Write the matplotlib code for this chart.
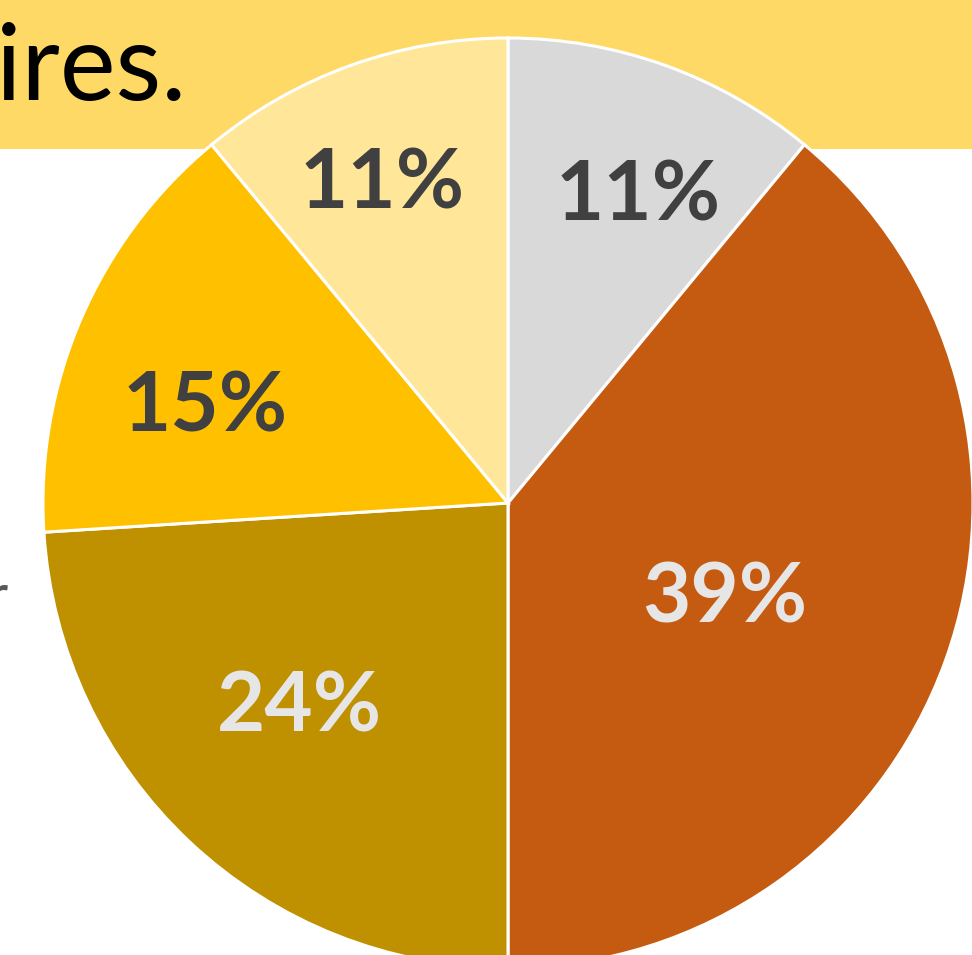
import matplotlib
matplotlib.use("Agg")
import matplotlib.pyplot as plt
from matplotlib.patches import Rectangle
import numpy as np

# Data
labels = ["11%", "39%", "24%", "15%", "11%"]
values = [11, 39, 24, 15, 11]
colors = ["#D9D9D9", "#C55A11", "#BF9000", "#FFC000", "#FFE699"]
text_colors = ["#404040", "#E7E6E6", "#E7E6E6", "#404040", "#404040"]
label_radii = [0.74, 0.50, 0.61, 0.69, 0.76]
label_angle_shift = [-2.5, -1.5, -4.0, 4.0, 1.0]
banner_text = "questionnaires."
side_text = "r"

W, H = 972, 955
fig = plt.figure(figsize=(W / 100, H / 100), dpi=100)
ax = fig.add_axes([0, 0, 1, 1])
ax.set_xlim(0, W)
ax.set_ylim(0, H)
ax.axis("off")

# banner
ax.add_patch(Rectangle((0, H - 149), W, 149, facecolor="#FFD966", edgecolor="none", zorder=0))
ax.text(187, H - 100, banner_text, ha="right", va="baseline", fontsize=76,
        family="Lato", color="black", zorder=1)
ax.text(7, H - 614, side_text, ha="right", va="baseline", fontsize=40,
        family="Lato", color="#595959", zorder=1)

cx, cy, R = 508, H - 503, 465
wedges, _ = ax.pie(values, colors=colors, startangle=90, counterclock=False,
                   center=(cx, cy), radius=R, frame=True,
                   wedgeprops=dict(edgecolor="white", linewidth=2.2))
for w in wedges:
    w.set_zorder(2)

for w, lab, tc, rf, da in zip(wedges, labels, text_colors, label_radii, label_angle_shift):
    mid = np.deg2rad((w.theta1 + w.theta2) / 2 + da)
    x = cx + rf * R * np.cos(mid)
    y = cy + rf * R * np.sin(mid)
    ax.text(x, y - 12, lab, ha="center", va="center", fontsize=60, fontweight="bold",
            family="Lato", color=tc, zorder=3)

ax.set_xlim(0, W)
ax.set_ylim(0, H)
ax.set_aspect("auto")
ax.axis("off")
fig.savefig("out.png", dpi=100)
